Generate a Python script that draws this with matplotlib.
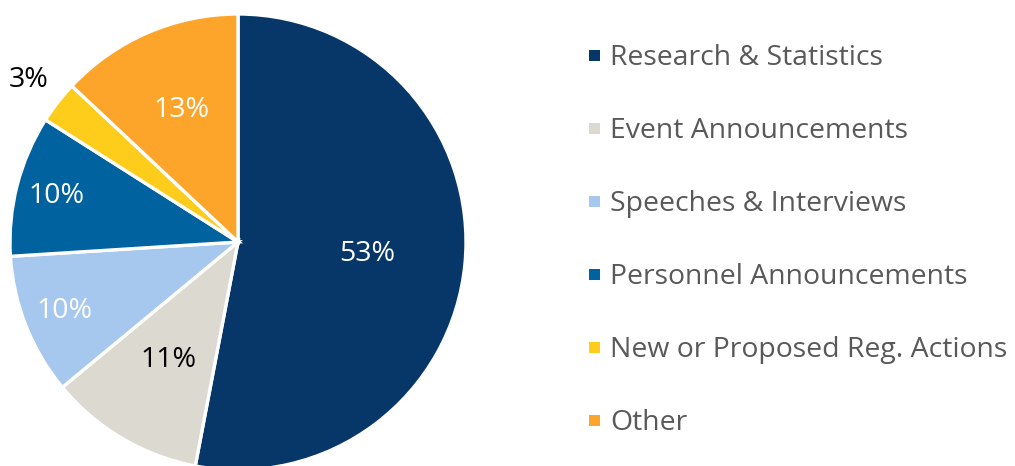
import matplotlib
matplotlib.use("Agg")
import matplotlib.pyplot as plt
from matplotlib.patches import Rectangle
import numpy as np

categories = ["Research & Statistics", "Event Announcements", "Speeches & Interviews",
              "Personnel Announcements", "New or Proposed Reg. Actions", "Other"]
shares = [53, 11, 10, 10, 3, 13]
colors = ["#063768", "#DCD9D1", "#A6C7EE", "#00629E", "#FECD1B", "#FDA52A"]
label_colors = ["white", "black", "white", "white", "black", "white"]
label_radius = [0.57, 0.6, 0.82, 0.82, 1.16, 0.63]

plt.rcParams["font.family"] = ["Open Sans", "DejaVu Sans"]

W, H = 1015, 466
fig = plt.figure(figsize=(W / 100, H / 100), dpi=100)

# Pie axes placed in pixel terms: centre (238, 242), radius 228
cx, cy, r = 238, 242, 228
ax = fig.add_axes([(cx - r) / W, 1 - (cy + r) / H, 2 * r / W, 2 * r / H])
wedges, _ = ax.pie(shares, colors=colors, startangle=90, counterclock=False,
                   radius=1, wedgeprops=dict(edgecolor="white", linewidth=2.4))
for w in wedges:
    w.set_clip_on(False)
ax.set_xlim(-1, 1)
ax.set_ylim(-1, 1)
ax.set_aspect("auto")
ax.axis("off")

for w, val, col, dist in zip(wedges, shares, label_colors, label_radius):
    ang = np.deg2rad((w.theta1 + w.theta2) / 2)
    ax.text(dist * np.cos(ang), dist * np.sin(ang), f"{val}%", color=col,
            fontsize=20.5, ha="center", va="center", clip_on=False)

# Legend drawn as squares with labels on the right
top, step = 56, 73
for i, (name, col) in enumerate(zip(categories, colors)):
    y = top + i * step
    fig.patches.append(Rectangle((589 / W, 1 - (y + 5) / H), 11 / W, 11 / H,
                                 transform=fig.transFigure, facecolor=col,
                                 edgecolor="none"))
    fig.text(610 / W, 1 - (y + 2) / H, name, color="#595959", fontsize=20.4,
             ha="left", va="center")

fig.savefig("out.png", dpi=100, facecolor="white")
